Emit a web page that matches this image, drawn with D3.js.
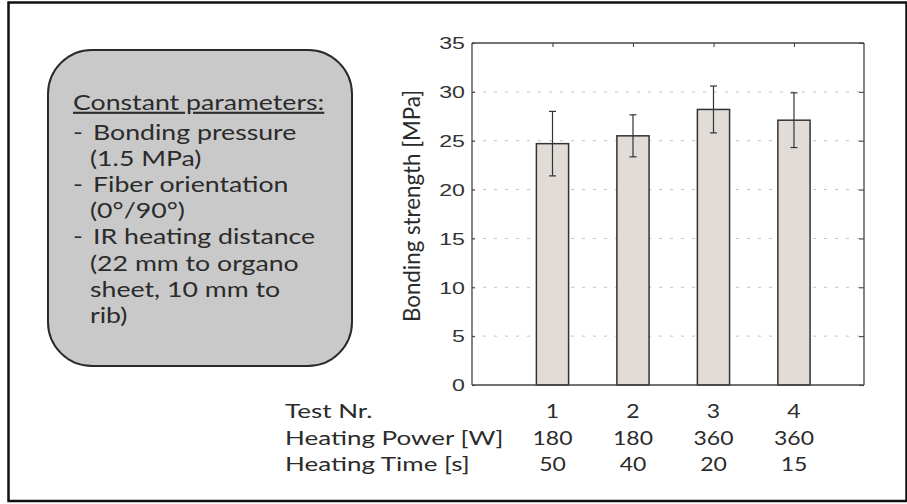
<!DOCTYPE html>
<html>
<head>
<meta charset="utf-8">
<script src="https://cdn.jsdelivr.net/npm/d3@7"></script>
<style>
  html, body { margin: 0; padding: 0; background: #fff; }
  svg { display: block; }
</style>
</head>
<body>
<svg id="chart" width="907" height="504"></svg>
<script>
// Bonding strength per test run, with standard deviation
const testNr = [1, 2, 3, 4];
const heatingPower = [180, 180, 360, 360];   // W
const heatingTime = [50, 40, 20, 15];        // s
const strength = [24.7, 25.5, 28.2, 27.1];   // MPa
const strengthSd = [3.3, 2.15, 2.4, 2.8];    // MPa
const yTicks = [0, 5, 10, 15, 20, 25, 30, 35];
const gridTicks = [5, 10, 15, 20, 25, 30];
const rowLabels = ["Test Nr.", "Heating Power [W]", "Heating Time [s]"];
const noteTitle = "Constant parameters:";
const noteLines = [
  { text: "Bonding pressure", bullet: true },
  { text: "(1.5 MPa)", bullet: false },
  { text: "Fiber orientation", bullet: true },
  { text: "(0°/90°)", bullet: false },
  { text: "IR heating distance", bullet: true },
  { text: "(22 mm to organo", bullet: false },
  { text: "sheet, 10 mm to", bullet: false },
  { text: "rib)", bullet: false }
];

const svg = d3.select("#chart");
const textFont = "Lato, 'Open Sans', sans-serif";
const textColor = "#2b2b2b";

// Text is set a little wide: glyphs are stretched horizontally by sx
function wideText(parent, str, px, py, sx, anchor) {
  return parent.append("text")
    .attr("transform", `translate(${px},${py}) scale(${sx},1)`)
    .attr("text-anchor", anchor || "start")
    .text(str);
}

// Outer frame
svg.append("rect")
  .attr("x", 8.5).attr("y", 2.5)
  .attr("width", 898).attr("height", 498.5)
  .attr("fill", "none").attr("stroke", "#111").attr("stroke-width", 2.5);

// Plot area
const plot = { left: 472, right: 864, top: 43, bottom: 385 };
const x = d3.scaleLinear().domain([0, 4.87]).range([plot.left, plot.right]);
const y = d3.scaleLinear().domain([0, 35]).range([plot.bottom, plot.top]);
const barW = x(0.4) - x(0);

const g = svg.append("g");

// Dashed horizontal grid
g.selectAll("line.grid").data(gridTicks).join("line")
  .attr("class", "grid")
  .attr("x1", plot.left).attr("x2", plot.right)
  .attr("y1", d => y(d)).attr("y2", d => y(d))
  .attr("stroke", "#c2c2c2").attr("stroke-width", 1)
  .attr("stroke-dasharray", "3,8");

// Bars
g.selectAll("rect.bar").data(strength).join("rect")
  .attr("class", "bar")
  .attr("x", (d, i) => x(testNr[i]) - barW / 2)
  .attr("y", d => y(d))
  .attr("width", barW)
  .attr("height", d => y(0) - y(d))
  .attr("fill", "#e1dcd7")
  .attr("stroke", "#333").attr("stroke-width", 1.5);

// Error bars
const capW = 7;
const err = g.selectAll("g.err").data(strength).join("g").attr("class", "err")
  .attr("stroke", "#333").attr("stroke-width", 1.2);
err.append("line")
  .attr("x1", (d, i) => x(testNr[i])).attr("x2", (d, i) => x(testNr[i]))
  .attr("y1", (d, i) => y(d - strengthSd[i])).attr("y2", (d, i) => y(d + strengthSd[i]));
err.append("line")
  .attr("x1", (d, i) => x(testNr[i]) - capW / 2).attr("x2", (d, i) => x(testNr[i]) + capW / 2)
  .attr("y1", (d, i) => y(d + strengthSd[i])).attr("y2", (d, i) => y(d + strengthSd[i]));
err.append("line")
  .attr("x1", (d, i) => x(testNr[i]) - capW / 2).attr("x2", (d, i) => x(testNr[i]) + capW / 2)
  .attr("y1", (d, i) => y(d - strengthSd[i])).attr("y2", (d, i) => y(d - strengthSd[i]));

// Axes box with inward ticks
const axisColor = "#444";
const axLeft = g.append("g").attr("transform", `translate(${plot.left},0)`)
  .call(d3.axisLeft(y).tickValues(yTicks).tickSize(-3).tickFormat(d3.format("d")));
const axRight = g.append("g").attr("transform", `translate(${plot.right},0)`)
  .call(d3.axisRight(y).tickValues(yTicks).tickSize(-5).tickFormat(""));
const axTop = g.append("g").attr("transform", `translate(0,${plot.top})`)
  .call(d3.axisTop(x).tickValues(testNr).tickSize(-4).tickFormat(""));
const axBottom = g.append("g").attr("transform", `translate(0,${plot.bottom})`)
  .call(d3.axisBottom(x).tickValues([]).tickSizeOuter(0));
[axLeft, axRight, axTop, axBottom].forEach(a => {
  a.select(".domain").attr("stroke", axisColor).attr("stroke-width", 1.3);
  a.selectAll(".tick line").attr("stroke", axisColor).attr("stroke-width", 1.1);
});
axLeft.select(".domain").attr("d", `M0,${plot.bottom}V${plot.top}`);
axRight.select(".domain").attr("d", `M0,${plot.bottom}V${plot.top}`);
axTop.select(".domain").attr("d", `M${plot.left},0H${plot.right}`);
axBottom.select(".domain").attr("d", `M${plot.left},0H${plot.right}`);
axLeft.selectAll(".tick text")
  .attr("font-family", "'Liberation Sans', Arial, sans-serif")
  .attr("font-size", 16).attr("fill", "#333")
  .attr("text-anchor", "end")
  .attr("x", 0).attr("dy", "0.36em")
  .attr("transform", "translate(-7,0) scale(1.45,1)");

// Y axis title
svg.append("text")
  .attr("transform", `translate(420,206) rotate(-90) scale(1,1.3)`)
  .attr("text-anchor", "middle")
  .attr("font-family", textFont).attr("font-size", 18)
  .attr("fill", textColor)
  .attr("textLength", 232).attr("lengthAdjust", "spacingAndGlyphs")
  .text("Bonding strength [MPa]");

// Parameter table below the axis
const rowY = [418, 445, 471];
const rows = [testNr, heatingPower, heatingTime];
const labelSx = 1.3;
const digitSx = 1.15;
const table = svg.append("g")
  .attr("font-family", textFont).attr("font-size", 20).attr("fill", textColor);
rowLabels.forEach((lbl, r) => wideText(table, lbl, 285, rowY[r], labelSx));
rows.forEach((vals, r) => {
  vals.forEach((v, i) => wideText(table, v, x(testNr[i]), rowY[r], digitSx, "middle"));
});

// Note box with constant parameters
svg.append("rect")
  .attr("x", 48).attr("y", 50).attr("width", 304).attr("height", 316)
  .attr("rx", 44).attr("ry", 44)
  .attr("fill", "#c9c9c9").attr("stroke", "#2a2a2a").attr("stroke-width", 2);
const noteSx = 1.27;
const note = svg.append("g")
  .attr("font-family", textFont).attr("font-size", 21).attr("fill", textColor);
wideText(note, noteTitle, 73, 110, noteSx).attr("text-decoration", "underline");
noteLines.forEach((ln, i) => {
  const ly = 140 + i * 26.1;
  if (ln.bullet) {
    wideText(note, "-", 73, ly, noteSx);
    wideText(note, ln.text, 93, ly, noteSx);
  } else {
    wideText(note, ln.text, 90, ly, noteSx);
  }
});
</script>
</body>
</html>
